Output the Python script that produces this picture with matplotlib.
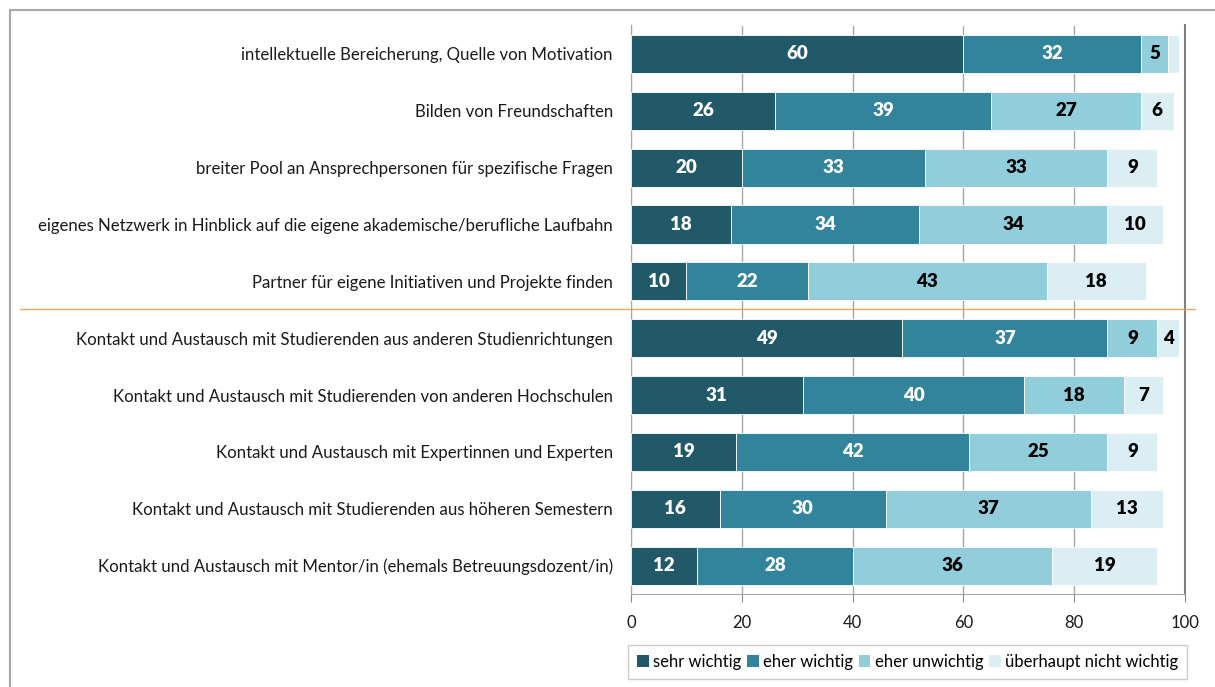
import matplotlib
matplotlib.use("Agg")
import matplotlib.pyplot as plt
from matplotlib.lines import Line2D
from matplotlib.patches import Patch
import numpy as np

categories = [
    "intellektuelle Bereicherung, Quelle von Motivation",
    "Bilden von Freundschaften",
    "breiter Pool an Ansprechpersonen für spezifische Fragen",
    "eigenes Netzwerk in Hinblick auf die eigene akademische/berufliche Laufbahn",
    "Partner für eigene Initiativen und Projekte finden",
    "Kontakt und Austausch mit Studierenden aus anderen Studienrichtungen",
    "Kontakt und Austausch mit Studierenden von anderen Hochschulen",
    "Kontakt und Austausch mit Expertinnen und Experten",
    "Kontakt und Austausch mit Studierenden aus höheren Semestern",
    "Kontakt und Austausch mit Mentor/in (ehemals Betreuungsdozent/in)",
]
sehr_wichtig = [60, 26, 20, 18, 10, 49, 31, 19, 16, 12]
eher_wichtig = [32, 39, 33, 34, 22, 37, 40, 42, 30, 28]
eher_unwichtig = [5, 27, 33, 34, 43, 9, 18, 25, 37, 36]
nicht_wichtig = [2, 6, 9, 10, 18, 4, 7, 9, 13, 19]
series_names = ["sehr wichtig", "eher wichtig", "eher unwichtig", "überhaupt nicht wichtig"]
xticks = [0, 20, 40, 60, 80, 100]

colors = ["#215968", "#31849B", "#92CDDC", "#DAEEF3"]
text_colors = ["white", "white", "black", "black"]

plt.rcParams['font.family'] = ['Lato', 'DejaVu Sans']

W, H = 1215, 687
fig = plt.figure(figsize=(W / 100, H / 100), dpi=100)
left, right = 631 / W, 1185 / W
top, bottom = 1 - 25.5 / H, 1 - 594 / H
ax = fig.add_axes([left, bottom, right - left, top - bottom])

series = [sehr_wichtig, eher_wichtig, eher_unwichtig, nicht_wichtig]
y = np.arange(len(categories))
base = np.zeros(len(categories))
for vals, c, tc in zip(series, colors, text_colors):
    vals = np.array(vals, dtype=float)
    ax.barh(y, vals, left=base, height=0.67, color=c, edgecolor='white', linewidth=0.6, zorder=3)
    for yi, (b, v) in enumerate(zip(base, vals)):
        if v >= 3:
            ax.text(b + v / 2, yi, f"{int(v)}", ha='center', va='center', color=tc,
                    fontsize=13.5, fontweight='heavy', zorder=4)
    base += vals

ax.set_xlim(0, 100)
ax.set_ylim(len(categories) - 0.5, -0.5)
ax.set_yticks(y)
ax.set_yticklabels(categories, fontsize=12.1, color='#1a1a1a')
ax.tick_params(axis='y', length=0, pad=13)
ax.set_xticks(xticks)
ax.set_xticklabels([str(t) for t in xticks], fontsize=12, color='#1a1a1a')
ax.tick_params(axis='x', length=6, direction='out', color='#888888', pad=9)
ax.grid(axis='x', color='#A6A6A6', linewidth=1.0, zorder=0)
ax.set_axisbelow(True)
ax.spines['top'].set_visible(False)
ax.spines['right'].set_color('#808080')
ax.spines['right'].set_linewidth(1.5)
ax.spines['left'].set_color('#A6A6A6')
ax.spines['bottom'].set_color('#A6A6A6')

# separator line between groups
sep_y = 1 - 309 / H
fig.add_artist(Line2D([20 / W, 1195 / W], [sep_y, sep_y], color='#F79646', linewidth=1.0, alpha=0.85))

# outer frame (top and left edges)
fig.add_artist(Line2D([10 / W, 1], [1 - 10 / H, 1 - 10 / H], color='#A6A6A6', linewidth=1.5))
fig.add_artist(Line2D([10 / W, 10 / W], [1 - 10 / H, 0], color='#A6A6A6', linewidth=1.5))

handles = [Patch(facecolor=c, edgecolor='none') for c in colors]
leg = fig.legend(handles, series_names, loc='center', ncol=4,
                 bbox_to_anchor=((627 + 1188) / 2 / W, 1 - 662 / H),
                 fontsize=12.0, frameon=True, fancybox=False, edgecolor='#BFBFBF',
                 handlelength=0.7, handleheight=0.7, handletextpad=0.25, columnspacing=0.35,
                 borderpad=0.55, borderaxespad=0)
leg.get_frame().set_linewidth(1.0)

fig.savefig("out.png", dpi=100)
